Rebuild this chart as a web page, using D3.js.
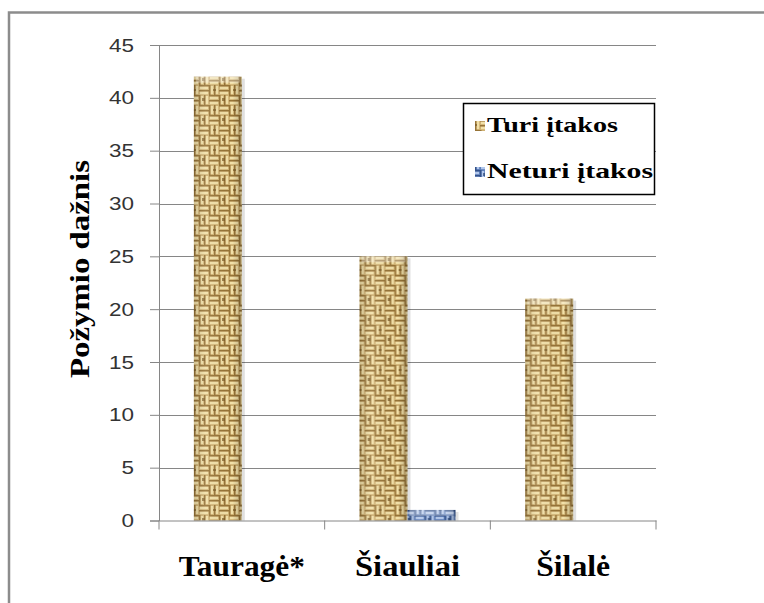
<!DOCTYPE html>
<html>
<head>
<meta charset="utf-8">
<script src="https://cdn.jsdelivr.net/npm/d3@7/dist/d3.min.js"></script>
<style>
  body { margin: 0; background: #fff; }
  svg { display: block; }
</style>
</head>
<body>
<div id="chart"></div>
<script>
// 데이터
var categories = ["Tauragė*", "Šiauliai", "Šilalė"];
var seriesNames = ["Turi įtakos", "Neturi įtakos"];
var turiItakos = [42, 25, 21];
var neturiItakos = [0, 1, 0];
var yTicks = [0, 5, 10, 15, 20, 25, 30, 35, 40, 45];
var yTitle = "Požymio dažnis";

var serif = "'Liberation Serif', serif";

function makeBarChart(div_id, pWidth, pHeight) {
  var margin = {top: 45, right: 108, bottom: 82.5, left: 159};
  var width = pWidth - margin.left - margin.right;
  var height = pHeight - margin.top - margin.bottom;

  var svg = d3.select("#" + div_id).append("svg")
    .attr("width", pWidth)
    .attr("height", pHeight);

  // 텍스처 패턴
  var defs = svg.append("defs");
  function weave(id, base, dark, light, spot) {
    var p = defs.append("pattern")
      .attr("id", id)
      .attr("patternUnits", "userSpaceOnUse")
      .attr("width", 20).attr("height", 20);
    p.append("rect").attr("width", 20).attr("height", 20).attr("fill", base);
    [[0, 0, "h"], [10, 0, "v"], [0, 10, "v"], [10, 10, "h"]].forEach(function(c) {
      for (var k = 0; k < 10; k += 5) {
        if (c[2] === "h") {
          p.append("rect").attr("x", c[0]).attr("y", c[1] + k).attr("width", 10).attr("height", 1.5).attr("fill", dark);
          p.append("rect").attr("x", c[0] + 1).attr("y", c[1] + k + 1.8).attr("width", 8).attr("height", 2.4).attr("fill", light);
        } else {
          p.append("rect").attr("x", c[0] + k).attr("y", c[1]).attr("width", 1.5).attr("height", 10).attr("fill", dark);
          p.append("rect").attr("x", c[0] + k + 1.8).attr("y", c[1] + 1).attr("width", 2.4).attr("height", 8).attr("fill", light);
        }
      }
    });
    p.append("rect").attr("x", 3).attr("y", 13).attr("width", 3).attr("height", 3).attr("fill", spot).attr("opacity", 0.7);
    p.append("rect").attr("x", 14).attr("y", 4).attr("width", 3).attr("height", 2).attr("fill", spot).attr("opacity", 0.7);
  }
  weave("texTan", "#cfb172", "#977437", "#f2e0a8", "#7a5a26");
  weave("texBlue", "#5f80ba", "#34528a", "#b3c8ec", "#2a4475");

  var shade = defs.append("linearGradient").attr("id", "barShade")
    .attr("x1", 0).attr("x2", 1).attr("y1", 0).attr("y2", 0);
  shade.append("stop").attr("offset", "0").attr("stop-color", "#000").attr("stop-opacity", 0.15);
  shade.append("stop").attr("offset", "0.25").attr("stop-color", "#fff").attr("stop-opacity", 0.1);
  shade.append("stop").attr("offset", "0.8").attr("stop-color", "#000").attr("stop-opacity", 0);
  shade.append("stop").attr("offset", "1").attr("stop-color", "#000").attr("stop-opacity", 0.22);

  // 외곽 테두리
  svg.append("path")
    .attr("d", "M9,603 V12.5 H764")
    .attr("fill", "none")
    .attr("stroke", "#8c8c8c")
    .attr("stroke-width", 2.5);

  var g = svg.append("g")
    .attr("transform", "translate(" + margin.left + "," + margin.top + ")");

  // 축
  var x = d3.scaleBand().domain(categories).range([0, width]).padding(0);
  var x1 = d3.scaleBand().domain(seriesNames).range([0, x.bandwidth()])
    .paddingInner(0).paddingOuter(0.726);
  var y = d3.scaleLinear().domain([0, 45]).range([height, 0]);

  // 그리드
  g.append("g").attr("class", "grid")
    .selectAll("line").data(yTicks.slice(1)).enter().append("line")
    .attr("x1", 0).attr("x2", width)
    .attr("y1", function(d) { return Math.round(y(d)) + 0.5; })
    .attr("y2", function(d) { return Math.round(y(d)) + 0.5; })
    .attr("stroke", "#868686").attr("stroke-width", 1);

  var yAxis = g.append("g").attr("class", "yAxis")
    .call(d3.axisLeft(y).tickValues(yTicks).tickSize(9).tickPadding(16));
  yAxis.select(".domain").attr("stroke", "#868686");
  yAxis.selectAll(".tick line").attr("stroke", "#868686");
  yAxis.selectAll(".tick text")
    .attr("font-family", "'Liberation Sans', sans-serif")
    .attr("font-size", 19)
    .attr("textLength", function(d) { return String(d).length * 12.5; })
    .attr("lengthAdjust", "spacingAndGlyphs")
    .attr("fill", "#333");

  // 막대
  var data = categories.map(function(c, i) {
    return {cat: c, vals: [
      {key: seriesNames[0], value: turiItakos[i], tex: "url(#texTan)"},
      {key: seriesNames[1], value: neturiItakos[i], tex: "url(#texBlue)"}
    ]};
  });

  var groups = g.append("g").attr("class", "bars")
    .selectAll("g").data(data).enter().append("g")
    .attr("transform", function(d) { return "translate(" + x(d.cat) + ",0)"; });

  var bars = groups.selectAll("g").data(function(d) {
    return d.vals.filter(function(v) { return v.value > 0; });
  }).enter().append("g");

  bars.append("rect")
    .attr("x", function(d) { return x1(d.key) + 3; })
    .attr("y", function(d) { return y(d.value) + 2; })
    .attr("width", x1.bandwidth())
    .attr("height", function(d) { return height - y(d.value) - 2; })
    .attr("fill", "#000").attr("opacity", 0.12);
  bars.append("rect")
    .attr("x", function(d) { return x1(d.key); })
    .attr("y", function(d) { return y(d.value); })
    .attr("width", x1.bandwidth())
    .attr("height", function(d) { return height - y(d.value); })
    .attr("fill", function(d) { return d.tex; });
  bars.append("rect")
    .attr("x", function(d) { return x1(d.key); })
    .attr("y", function(d) { return y(d.value); })
    .attr("width", x1.bandwidth())
    .attr("height", function(d) { return height - y(d.value); })
    .attr("fill", "url(#barShade)");
  // 윗면 하이라이트
  bars.append("rect")
    .attr("x", function(d) { return x1(d.key) + 2; })
    .attr("y", function(d) { return y(d.value); })
    .attr("width", x1.bandwidth() - 4)
    .attr("height", function(d) { return Math.min(6, height - y(d.value)); })
    .attr("fill", "#fff").attr("opacity", 0.3);

  var xAxis = g.append("g").attr("class", "xAxis")
    .attr("transform", "translate(0," + height + ")")
    .call(d3.axisBottom(x).tickSize(0).tickFormat(""));
  xAxis.select(".domain").attr("stroke", "#868686");
  xAxis.selectAll(".sep").data(categories).enter().append("line")
    .attr("x1", function(d) { return x(d) + x.bandwidth(); })
    .attr("x2", function(d) { return x(d) + x.bandwidth(); })
    .attr("y1", 0).attr("y2", 9)
    .attr("stroke", "#868686");
  xAxis.append("line").attr("x1", 0).attr("x2", 0).attr("y1", 0).attr("y2", 9).attr("stroke", "#868686");

  // x 라벨
  var xl = [126, 105, 74];
  g.append("g").selectAll("text").data(categories).enter().append("text")
    .attr("x", function(d) { return x(d) + x.bandwidth() / 2; })
    .attr("y", height + 55)
    .attr("text-anchor", "middle")
    .attr("font-family", serif)
    .attr("font-weight", "bold")
    .attr("font-size", 30)
    .attr("textLength", function(d, i) { return xl[i]; })
    .attr("lengthAdjust", "spacingAndGlyphs")
    .attr("fill", "#000")
    .text(function(d) { return d; });

  // y 타이틀
  svg.append("text")
    .attr("transform", "translate(89," + 269 + ") rotate(-90)")
    .attr("text-anchor", "middle")
    .attr("font-family", serif)
    .attr("font-weight", "bold")
    .attr("font-size", 27)
    .attr("textLength", 218)
    .attr("lengthAdjust", "spacingAndGlyphs")
    .text(yTitle);

  // 범례
  var legend = svg.append("g").attr("class", "legend");
  legend.append("rect")
    .attr("x", 463.5).attr("y", 103.5).attr("width", 191).attr("height", 91)
    .attr("fill", "#fff").attr("stroke", "#000").attr("stroke-width", 1.5);
  var tex = ["url(#texTan)", "url(#texBlue)"];
  seriesNames.forEach(function(s, i) {
    var ly = 132 + i * 46;
    legend.append("rect")
      .attr("x", 475).attr("y", ly - 11).attr("width", 10).attr("height", 10)
      .attr("fill", tex[i]);
    legend.append("text")
      .attr("x", 487).attr("y", ly)
      .attr("font-family", serif)
      .attr("font-weight", "bold")
      .attr("font-size", 21)
      .attr("textLength", i === 0 ? 131 : 166)
      .attr("lengthAdjust", "spacingAndGlyphs")
      .text(s);
  });
}

makeBarChart("chart", 764, 603);
</script>
</body>
</html>
